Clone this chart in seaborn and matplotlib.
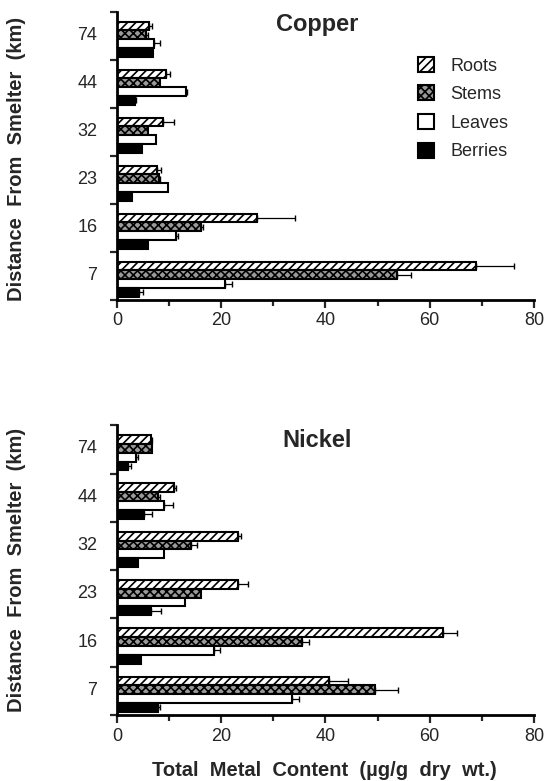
import numpy as np
import pandas as pd
import matplotlib
matplotlib.use('Agg')
import matplotlib.pyplot as plt
import matplotlib.patches as mpatches
from matplotlib.ticker import FixedLocator, MultipleLocator
import seaborn as sns

# ── Data ──────────────────────────────────────────────────────────────────────
distances = ['74', '44', '32', '23', '16', '7']
tissues = ['Roots', 'Stems', 'Leaves', 'Berries']

copper_roots = [6.2, 9.5, 8.8, 7.7, 26.8, 68.9]
copper_stems = [5.6, 8.2, 6.0, 8.0, 16.2, 53.7]
copper_leaves = [7.2, 13.2, 7.6, 9.8, 11.3, 20.7]
copper_berries = [6.9, 3.4, 4.9, 3.0, 6.0, 4.3]
copper_roots_err = [0.5, 0.7, 2.1, 0.8, 7.3, 7.3]
copper_stems_err = [0.3, 0.0, 0.0, 0.3, 0.4, 2.8]
copper_leaves_err = [1.1, 0.3, 0.0, 0.0, 0.5, 1.3]
copper_berries_err = [0.0, 0.3, 0.0, 0.0, 0.0, 0.8]

nickel_roots = [6.6, 11.0, 23.2, 23.2, 62.5, 40.6]
nickel_stems = [6.8, 7.9, 14.2, 16.2, 35.6, 49.6]
nickel_leaves = [3.7, 9.1, 9.1, 13.0, 18.7, 33.6]
nickel_berries = [2.1, 5.3, 4.0, 6.6, 4.7, 7.9]
nickel_roots_err = [0.2, 0.3, 0.6, 1.9, 2.8, 3.7]
nickel_stems_err = [0.0, 0.3, 1.1, 0.0, 1.3, 4.4]
nickel_leaves_err = [0.4, 1.6, 0.0, 0.0, 1.0, 1.3]
nickel_berries_err = [0.6, 1.5, 0.0, 1.9, 0.0, 0.3]

x_ticks = [0, 20, 40, 60, 80]

# ── Style ─────────────────────────────────────────────────────────────────────
sns.set_style('white')
plt.rcParams['font.family'] = ['Liberation Sans', 'DejaVu Sans']
plt.rcParams['hatch.linewidth'] = 1.2
STYLE = {
    'Roots':   dict(facecolor='white', hatch='////'),
    'Stems':   dict(facecolor='#9a9a9a', hatch='xxxx'),
    'Leaves':  dict(facecolor='white', hatch=''),
    'Berries': dict(facecolor='black', hatch=''),
}
SHIFT = 0.07   # bars sit a little low in each slot


def long_frame(values, errors):
    rows = []
    for t, vals, errs in zip(tissues, values, errors):
        for d, v, e in zip(distances, vals, errs):
            rows.append({'distance': d, 'tissue': t, 'value': v, 'err': e})
    return pd.DataFrame(rows)


def draw_panel(ax, df, title, title_y):
    sns.barplot(data=df, y='distance', x='value', hue='tissue', orient='h',
                order=distances, hue_order=tissues, width=0.73,
                errorbar=None, ax=ax, legend=False)
    for t, cont in zip(tissues, ax.containers):
        sub = df[df['tissue'] == t].set_index('distance').loc[distances]
        ys = []
        for bar in cont:
            bar.set_facecolor(STYLE[t]['facecolor'])
            bar.set_hatch(STYLE[t]['hatch'])
            bar.set_edgecolor('black')
            bar.set_linewidth(1.5)
            ys.append(bar.get_y() + bar.get_height() / 2)
        ys = np.array(ys)
        vals = sub['value'].values
        errs = sub['err'].values
        keep = errs > 0
        ax.errorbar(vals[keep], ys[keep],
                    xerr=[np.zeros(keep.sum()), errs[keep]],
                    fmt='none', ecolor='black', elinewidth=0.9, capsize=2)

    n = len(distances)
    centers = np.arange(n)
    ax.set_ylim(n - 0.5 - SHIFT, -0.5 - SHIFT)
    ax.yaxis.set_major_locator(FixedLocator(centers - SHIFT - 0.05))
    ax.set_yticklabels(distances)
    ax.yaxis.set_minor_locator(FixedLocator(np.arange(n + 1) - 0.5 - SHIFT))
    ax.tick_params(axis='y', which='major', length=0, labelsize=13, pad=14)
    ax.tick_params(axis='y', which='minor', length=5, width=1.6, left=True)

    ax.set_xlim(0, 80)
    ax.xaxis.set_major_locator(FixedLocator(x_ticks))
    ax.xaxis.set_minor_locator(MultipleLocator(10))
    ax.tick_params(axis='x', which='major', length=6, width=1.6,
                   labelsize=13, bottom=True, pad=3)
    ax.tick_params(axis='x', which='minor', length=4, width=1.6, bottom=True)

    sns.despine(ax=ax)
    for s in ['left', 'bottom']:
        ax.spines[s].set_linewidth(2)
        ax.spines[s].set_color('black')
    ax.set_xlabel('')
    ax.set_ylabel('')
    ax.text(0.48, title_y, title, transform=ax.transAxes, ha='center',
            va='center', fontsize=17, fontweight='bold')


copper = long_frame([copper_roots, copper_stems, copper_leaves, copper_berries],
                    [copper_roots_err, copper_stems_err, copper_leaves_err,
                     copper_berries_err])
nickel = long_frame([nickel_roots, nickel_stems, nickel_leaves, nickel_berries],
                    [nickel_roots_err, nickel_stems_err, nickel_leaves_err,
                     nickel_berries_err])

fig = plt.figure(figsize=(5.46, 7.81), dpi=100)
ax1 = fig.add_axes([0.214, 0.616, 0.764, 0.369])
ax2 = fig.add_axes([0.214, 0.0845, 0.764, 0.371])

draw_panel(ax1, copper, 'Copper', 0.955)
draw_panel(ax2, nickel, 'Nickel', 0.948)

for y in [0.796, 0.27]:
    fig.text(0.031, y, 'Distance  From  Smelter  (km)', rotation=90,
             ha='center', va='center', fontsize=14.5, fontweight='bold')
fig.text(0.595, 0.014, 'Total  Metal  Content  (\u00b5g/g  dry  wt.)',
         ha='center', va='center', fontsize=14.5, fontweight='bold')

handles = [mpatches.Patch(facecolor=STYLE[t]['facecolor'], hatch=STYLE[t]['hatch'],
                          edgecolor='black', linewidth=1.5, label=t)
           for t in tissues]
ax1.legend(handles=handles, loc='upper left', bbox_to_anchor=(0.735, 0.948),
           bbox_transform=fig.transFigure, frameon=False, fontsize=13,
           handlelength=0.9, handleheight=0.9, labelspacing=0.6,
           handletextpad=0.9)

fig.savefig('out.png', dpi=100)
